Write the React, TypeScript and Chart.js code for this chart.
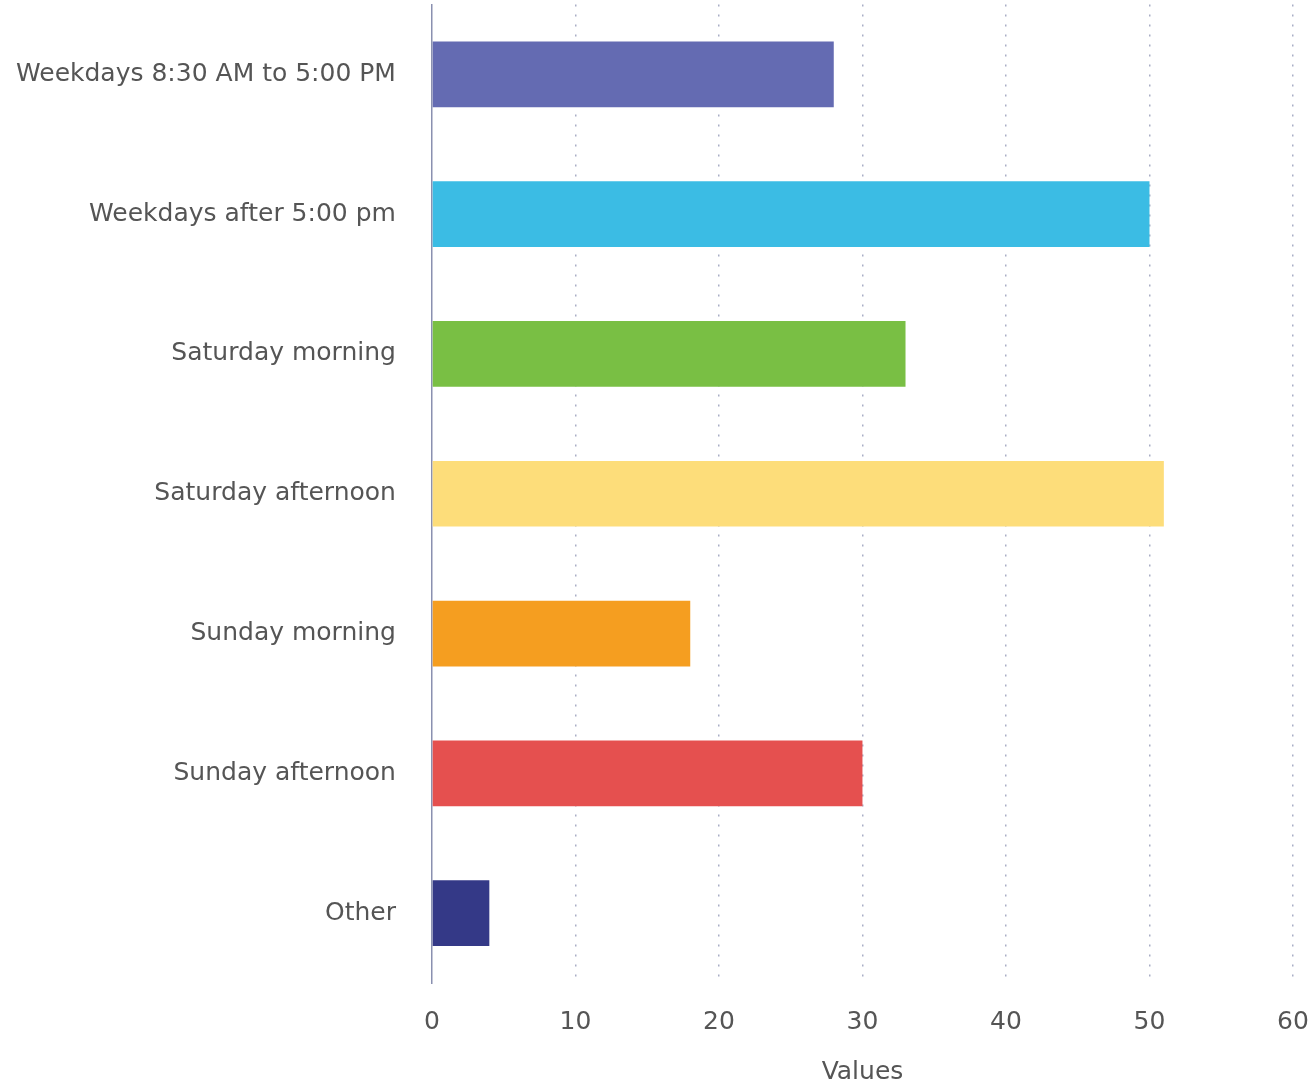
import React, { useEffect, useRef } from "react";
import { Chart, registerables } from "chart.js";

Chart.register(...registerables);

const categories = [
  "Weekdays 8:30 AM to 5:00 PM",
  "Weekdays after 5:00 pm",
  "Saturday morning",
  "Saturday afternoon",
  "Sunday morning",
  "Sunday afternoon",
  "Other",
];
const values = [28, 50, 33, 51, 18, 30, 4];
const barColors = ["#646bb2", "#3bbce4", "#79bf44", "#fddd7a", "#f59e20", "#e5504f", "#343987"];
const xTicks = [0, 10, 20, 30, 40, 50, 60];
const xTitle = "Values";

export default function App() {
  const ref = useRef<HTMLCanvasElement | null>(null);
  useEffect(() => {
    if (!ref.current) return;
    const font = "'DejaVu Sans', Verdana, sans-serif";
    const chart = new Chart(ref.current, {
      type: "bar",
      data: {
        labels: categories,
        datasets: [
          {
            data: values,
            backgroundColor: barColors,
            borderWidth: 0,
            barPercentage: 0.94,
            categoryPercentage: 0.5,
          },
        ],
      },
      options: {
        indexAxis: "y",
        animation: false,
        responsive: false,
        maintainAspectRatio: false,
        layout: { padding: { top: 4, right: 22, bottom: 0, left: 14 } },
        plugins: { legend: { display: false }, tooltip: { enabled: false } },
        scales: {
          x: {
            min: 0,
            max: 60,
            afterBuildTicks: (axis: any) => {
              axis.ticks = xTicks.map((v) => ({ value: v }));
            },
            grid: {
              display: true,
              drawTicks: true,
              tickLength: 24,
              tickColor: "rgba(0,0,0,0)",
              color: (ctx: any) => (ctx.tick && ctx.tick.value === 0 ? "rgba(0,0,0,0)" : "#a9aec6"),
              lineWidth: 1.5,
            },
            border: { display: false, dash: [2, 8] },
            ticks: { color: "#555", font: { family: font, size: 25 }, padding: 0 },
            title: {
              display: true,
              text: xTitle,
              color: "#555",
              font: { family: font, size: 25 },
              padding: { top: 20, bottom: 0 },
            },
          },
          y: {
            grid: {
              display: true,
              drawOnChartArea: false,
              drawTicks: true,
              tickLength: 34,
              tickColor: "rgba(0,0,0,0)",
            },
            border: { display: true, color: "#8a90b0", width: 1.5 },
            ticks: { color: "#555", font: { family: font, size: 25, lineHeight: 0.2 }, padding: 2 },
          },
        },
      },
    });
    return () => chart.destroy();
  }, []);
  return (
    <div style={{ position: "absolute", left: 0, top: 0, width: 1315, height: 1087, background: "#fff" }}>
      <canvas ref={ref} width={1315} height={1087} />
    </div>
  );
}
